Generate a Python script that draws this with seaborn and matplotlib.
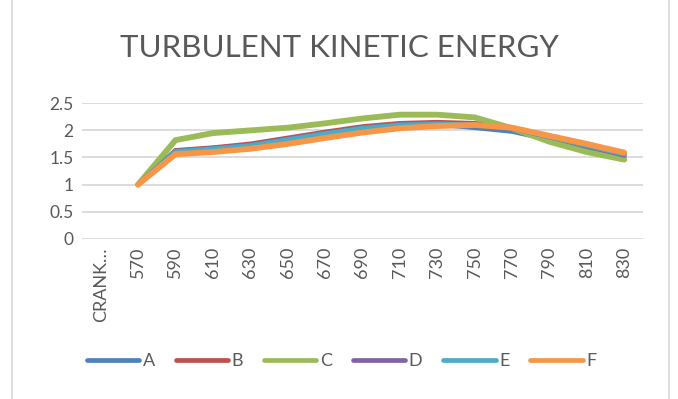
import numpy as np
import pandas as pd
import matplotlib
matplotlib.use("Agg")
import matplotlib.pyplot as plt
from matplotlib.patches import Rectangle
import seaborn as sns

# Crank angle categories (first category has no samples)
categories = ["CRANK…", "570", "590", "610", "630", "650", "670", "690",
              "710", "730", "750", "770", "790", "810", "830"]

series_a = [np.nan, 1.00, 1.62, 1.66, 1.72, 1.82, 1.93, 2.03, 2.10, 2.11, 2.05, 1.98, 1.83, 1.66, 1.50]
series_b = [np.nan, 1.00, 1.63, 1.68, 1.75, 1.86, 1.97, 2.07, 2.13, 2.15, 2.13, 2.05, 1.88, 1.72, 1.55]
series_c = [np.nan, 1.00, 1.82, 1.95, 2.00, 2.05, 2.13, 2.22, 2.29, 2.29, 2.24, 2.04, 1.79, 1.60, 1.46]
series_d = [np.nan, 1.00, 1.62, 1.67, 1.73, 1.84, 1.95, 2.05, 2.11, 2.13, 2.11, 2.04, 1.88, 1.71, 1.54]
series_e = [np.nan, 1.00, 1.61, 1.66, 1.72, 1.83, 1.94, 2.04, 2.10, 2.12, 2.10, 2.04, 1.88, 1.72, 1.56]
series_f = [np.nan, 1.00, 1.56, 1.60, 1.66, 1.75, 1.86, 1.96, 2.04, 2.08, 2.10, 2.05, 1.90, 1.75, 1.59]

series_names = ["A", "B", "C", "D", "E", "F"]
series_values = [series_a, series_b, series_c, series_d, series_e, series_f]
colors = ["#4F81BD", "#C0504D", "#9BBB59", "#8064A2", "#4BACC6", "#F79646"]

y_ticks = [0, 0.5, 1, 1.5, 2, 2.5]
y_tick_labels = ["0", "0.5", "1", "1.5", "2", "2.5"]

rows = []
for name, vals in zip(series_names, series_values):
    for i, v in enumerate(vals):
        rows.append({"pos": i, "value": v, "series": name})
df = pd.DataFrame(rows)

sns.set_theme(style="white")
plt.rcParams["font.family"] = ["Lato", "DejaVu Sans"]

text_color = "#595959"
grid_color = "#D9D9D9"

fig = plt.figure(figsize=(6.78, 3.99), dpi=100)
ax = fig.add_axes([0.1209, 0.4017, 0.8274, 0.3394])

# chart area border
fig.patches.append(Rectangle((12 / 678, -0.05), (669 - 12) / 678, 1.1,
                             transform=fig.transFigure, fill=False,
                             edgecolor=grid_color, linewidth=1.2, zorder=0))

for y in y_ticks:
    ax.axhline(y, color=grid_color, linewidth=1.3, zorder=0)

sns.lineplot(data=df, x="pos", y="value", hue="series", hue_order=series_names,
             palette=colors, linewidth=3.4, ax=ax, legend=False,
             solid_capstyle="round", solid_joinstyle="round")
for line in ax.lines:
    if line.get_color() in ("#9BBB59", "#F79646"):
        line.set_linewidth(4.2)

ax.set_xlim(-0.5, len(categories) - 0.5)
ax.set_ylim(0, 2.5)
ax.set_xticks(range(len(categories)))
ax.set_xticklabels(categories, rotation=90, fontsize=13, color=text_color)
ax.set_yticks(y_ticks)
ax.set_yticklabels(y_tick_labels, fontsize=12.5, color=text_color)
ax.tick_params(axis="both", length=0, pad=6)
ax.set_xlabel("")
ax.set_ylabel("")
for s in ax.spines.values():
    s.set_visible(False)

fig.text(0.5, 1 - 48 / 399, "TURBULENT KINETIC ENERGY", ha="center", va="center",
         fontsize=22.5, fontweight="normal", color=text_color)

handles = [plt.Line2D([], [], color=c, linewidth=3.4, solid_capstyle="round")
           for c in colors]
fig.legend(handles, series_names, loc="center left",
           bbox_to_anchor=(87 / 678, 1 - 361 / 399),
           ncol=6, frameon=False, fontsize=13, handlelength=2.9, handletextpad=0.2,
           columnspacing=1.15, borderpad=0, borderaxespad=0, labelcolor=text_color)

fig.savefig("out.png", dpi=100, facecolor="white")
